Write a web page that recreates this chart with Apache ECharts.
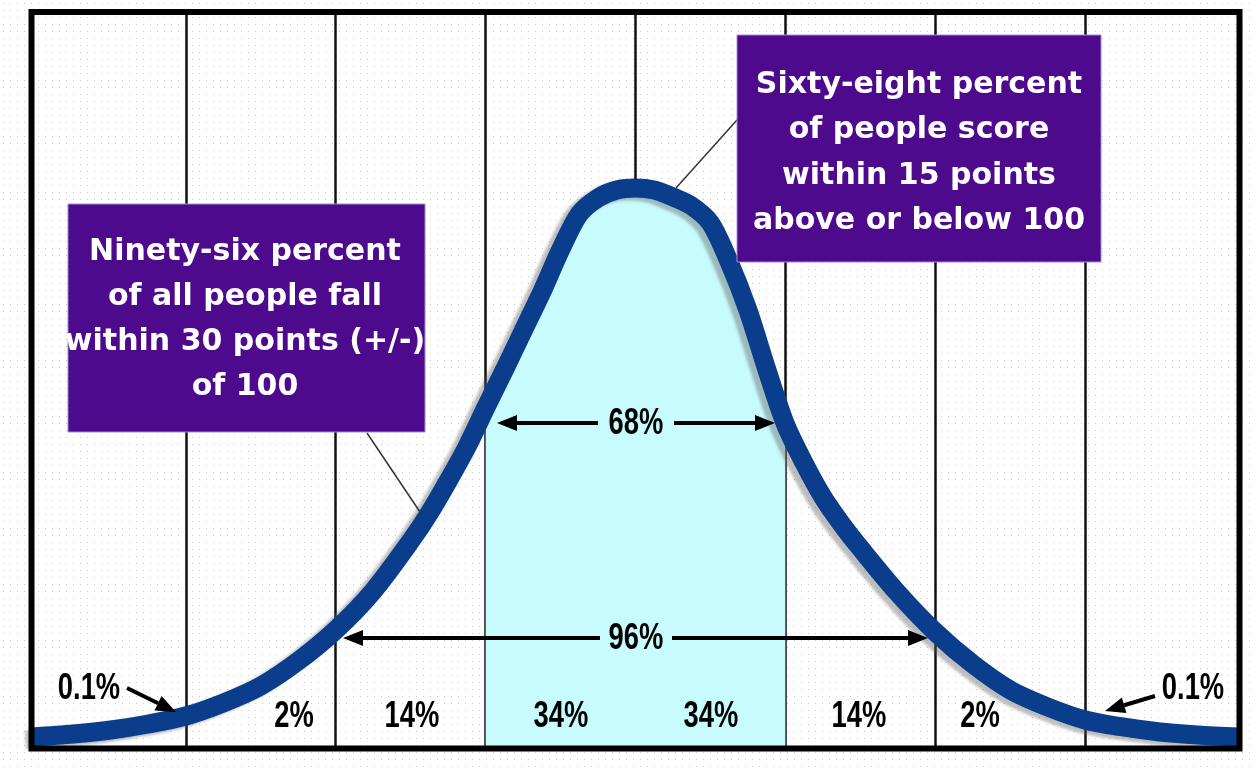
<!DOCTYPE html>
<html>
<head>
<meta charset="utf-8">
<title>Normal curve of IQ scores</title>
<script src="https://cdn.jsdelivr.net/npm/echarts@6/dist/echarts.min.js"></script>
<style>
html, body { margin: 0; padding: 0; background: #fff; }
#chart { width: 1256px; height: 772px; }
</style>
</head>
<body>
<div id="chart"></div>
<script>
// curve; x in standard deviations from 100, y as % of plot height
const sigmaX = [-4.03, -3.75, -3.5, -3.25, -3, -2.75, -2.5, -2.25, -2, -1.75, -1.5, -1.375, -1.25, -1.125,
    -1, -0.875, -0.75, -0.625, -0.5, -0.375, -0.25, -0.125, 0, 0.125, 0.25, 0.375, 0.5, 0.625, 0.75, 0.875,
    1, 1.125, 1.25, 1.375, 1.5, 1.75, 2, 2.25, 2.5, 2.75, 3, 3.25, 3.5, 3.75, 4.03];
const curveY = [1.56, 1.97, 2.51, 3.33, 4.41, 6.18, 8.49, 11.88, 16.09, 21.38, 28.17, 31.98, 36.32, 40.94,
    46.23, 51.39, 56.69, 61.98, 67.69, 72.57, 74.75, 75.83, 76.1, 75.83, 74.88, 73.66, 71.35, 66.06, 59.54, 51.53,
    44.06, 38.76, 34.15, 30.48, 27.22, 21.11, 15.82, 11.47, 7.94, 5.63, 3.87, 2.92, 2.24, 1.83, 1.56];
const bandLines = [-3, -2, -1, 0, 1, 2, 3];
const shadedFrom = -1;
const shadedTo = 1;

const bandLabels = ['2%', '14%', '34%', '34%', '14%', '2%'];
const tailLabel = '0.1%';
const innerLabel = '68%';
const outerLabel = '96%';
const rightNote = 'Sixty-eight percent\nof people score\nwithin 15 points\nabove or below 100';
const leftNote = 'Ninety-six percent\nof all people fall\nwithin 30 points (+/-)\nof 100';

const curve = sigmaX.map((x, i) => [x, curveY[i]]);
const shaded = curve.filter(p => p[0] >= shadedFrom && p[0] <= shadedTo);

// faint dotted paper
const dots = document.createElement('canvas');
dots.width = 7;
dots.height = 7;
const dctx = dots.getContext('2d');
dctx.fillStyle = '#c9c9c9';
dctx.fillRect(3, 3, 1, 1);

// condensed look: bold sans squeezed sideways
const pctFont = 'bold 36px "Liberation Sans", Arial, sans-serif';
const noteFont = 'bold 30px "DejaVu Sans", sans-serif';
const purple = '#4e0a8c';

const arrow = (x1, y1, x2, y2) => {
    const a = Math.atan2(y2 - y1, x2 - x1);
    const len = 20, half = 8;
    const bx = x2 - len * Math.cos(a), by = y2 - len * Math.sin(a);
    const px = -Math.sin(a) * half, py = Math.cos(a) * half;
    return [
        {type: 'line', z: 100, shape: {x1, y1, x2: bx, y2: by}, style: {stroke: '#000', lineWidth: 4}},
        {type: 'polygon', z: 100, shape: {points: [[x2, y2], [bx + px, by + py], [bx - px, by - py]]}, style: {fill: '#000'}}
    ];
}

const label = (text, x, y) => ({
    type: 'text', z: 100, x, y, scaleX: 0.76, scaleY: 1.05,
    style: {text, font: pctFont, fill: '#000', align: 'center', verticalAlign: 'middle'}
});

const bandLabelX = [294, 412, 561, 711, 859, 980];

const graphic = [
    // connectors
    {type: 'line', z: 90, shape: {x1: 737, y1: 120, x2: 676, y2: 188}, style: {stroke: '#333', lineWidth: 1.5}},
    {type: 'line', z: 90, shape: {x1: 367, y1: 433, x2: 422, y2: 515}, style: {stroke: '#333', lineWidth: 1.5}},
    // note boxes
    {type: 'rect', z: 100, shape: {x: 737, y: 35, width: 364, height: 227}, style: {fill: purple, stroke: '#a08ccc', lineWidth: 1}},
    {type: 'text', z: 101, x: 919, y: 153,
        style: {text: rightNote, font: noteFont, fill: '#fff', align: 'center', verticalAlign: 'middle', lineHeight: 45.5}},
    {type: 'rect', z: 100, shape: {x: 68, y: 204, width: 357, height: 228}, style: {fill: purple, stroke: '#a08ccc', lineWidth: 1}},
    {type: 'text', z: 101, x: 245, y: 320,
        style: {text: leftNote, font: noteFont, fill: '#fff', align: 'center', verticalAlign: 'middle', lineHeight: 45}},
    // 68% and 96% spans
    ...arrow(598, 423, 497, 423),
    ...arrow(674, 423, 775, 423),
    label(innerLabel, 636, 424),
    ...arrow(600, 638, 343, 638),
    ...arrow(672, 638, 928, 638),
    label(outerLabel, 636, 639),
    // tails
    label(tailLabel, 89, 689),
    ...arrow(127, 688, 176, 712),
    label(tailLabel, 1193, 689),
    ...arrow(1155, 696, 1105, 711),
    ...bandLabels.map((t, i) => label(t, bandLabelX[i], 717)),
    // frame
    {type: 'rect', z: 120, shape: {x: 31.5, y: 12, width: 1208, height: 736.5}, style: {fill: 'none', stroke: '#000', lineWidth: 6}}
];

const option = {
    animation: false,
    backgroundColor: {image: dots, repeat: 'repeat'},
    grid: {left: 31.5, right: 16.5, top: 12, bottom: 23.5},
    xAxis: {type: 'value', min: -4.03, max: 4.03, show: false},
    yAxis: {type: 'value', min: 0, max: 100, show: false},
    series: [
        {
            type: 'line',
            z: 2,
            data: shaded,
            symbol: 'none',
            smooth: 0.3,
            lineStyle: {width: 0},
            areaStyle: {color: '#c8fbfe', opacity: 1},
            markLine: {
                z: 1,
                silent: true,
                symbol: 'none',
                label: {show: false},
                lineStyle: {color: '#111', width: 2.5, type: 'solid'},
                data: bandLines.map(v => ({xAxis: v}))
            }
        },
        {
            type: 'line',
            z: 3,
            data: curve,
            symbol: 'none',
            smooth: 0.3,
            lineStyle: {
                color: '#0a3d8c',
                width: 19,
                shadowColor: 'rgba(90,90,90,0.4)',
                shadowBlur: 3,
                shadowOffsetX: -6,
                shadowOffsetY: 3
            }
        }
    ],
    graphic
};

const chart = echarts.init(document.getElementById('chart'));
chart.setOption(option);
window.addEventListener('resize', () => {
    chart.resize();
})
</script>
</body>
</html>
